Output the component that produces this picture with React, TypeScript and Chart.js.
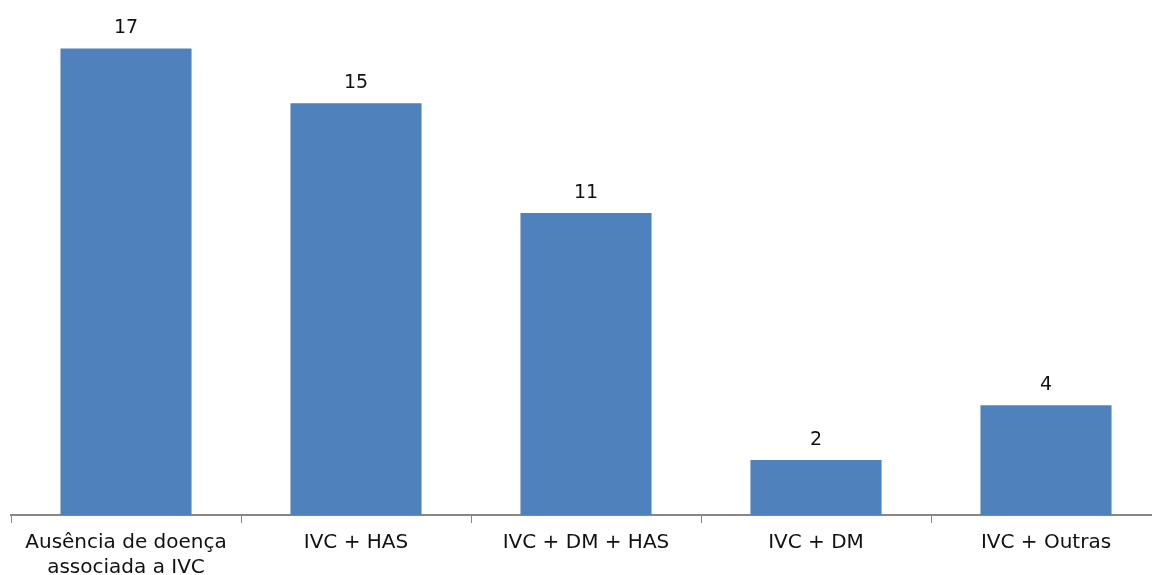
import React, { useEffect, useRef } from "react";
import { Chart, registerables } from "chart.js";

Chart.register(...registerables);

const categories: (string | string[])[] = [
  ["Ausência de doença", "associada a IVC"],
  "IVC + HAS",
  "IVC + DM + HAS",
  "IVC + DM",
  "IVC + Outras",
];
const values: number[] = [17, 15, 11, 2, 4];
const yMin = 0;
const yMax = 18;

const FONT = "'DejaVu Sans', 'Open Sans', sans-serif";

const valueLabels = {
  id: "valueLabels",
  afterDatasetsDraw(chart: any) {
    const ctx = chart.ctx;
    const meta = chart.getDatasetMeta(0);
    ctx.save();
    ctx.font = `19px ${FONT}`;
    ctx.fillStyle = "#111";
    ctx.textAlign = "center";
    ctx.textBaseline = "alphabetic";
    meta.data.forEach((bar: any, i: number) => {
      ctx.fillText(String(values[i]), bar.x, bar.y - 15);
    });
    ctx.restore();
  },
};

export default function App() {
  const ref = useRef<HTMLCanvasElement | null>(null);
  useEffect(() => {
    if (!ref.current) return;
    const chart = new Chart(ref.current, {
      type: "bar",
      data: {
        labels: categories,
        datasets: [
          {
            data: values,
            backgroundColor: "#4F81BD",
            borderWidth: 0,
            categoryPercentage: 1,
            barPercentage: 0.57,
          },
        ],
      },
      options: {
        animation: false,
        responsive: false,
        layout: { padding: { left: 11, right: 11, top: 21, bottom: 13 } },
        plugins: { legend: { display: false }, tooltip: { enabled: false } },
        scales: {
          x: {
            offset: true,
            grid: {
              offset: true,
              drawOnChartArea: false,
              drawTicks: true,
              tickLength: 8,
              color: "#878787",
              lineWidth: 1,
            },
            border: { display: true, color: "#878787", width: 2 },
            ticks: {
              color: "#111",
              font: { family: FONT, size: 20, lineHeight: 1.25 },
              padding: 7,
              maxRotation: 0,
              autoSkip: false,
            },
          },
          y: {
            display: false,
            min: yMin,
            max: yMax,
          },
        },
      },
      plugins: [valueLabels],
    });
    return () => chart.destroy();
  }, []);
  return (
    <div style={{ position: "fixed", left: 0, top: 0, width: 1152, height: 575, overflow: "hidden", background: "#fff" }}>
      <canvas ref={ref} width={1172} height={600} style={{ display: "block" }} />
    </div>
  );
}
